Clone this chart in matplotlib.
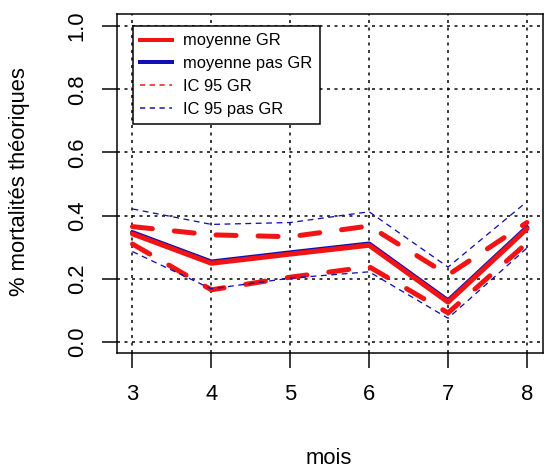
import matplotlib
matplotlib.use("Agg")
import matplotlib.pyplot as plt
from matplotlib.lines import Line2D

plt.rcParams['font.family'] = ['Liberation Sans', 'DejaVu Sans']

# donnees
mois = [3, 4, 5, 6, 7, 8]
moy_gr = [0.342, 0.249, 0.278, 0.306, 0.126, 0.358]
moy_pas_gr = [0.346, 0.253, 0.282, 0.310, 0.130, 0.362]
ic_gr_inf = [0.310, 0.165, 0.205, 0.238, 0.092, 0.313]
ic_gr_sup = [0.365, 0.339, 0.333, 0.367, 0.212, 0.378]
ic_pas_inf = [0.286, 0.168, 0.202, 0.222, 0.075, 0.297]
ic_pas_sup = [0.421, 0.372, 0.378, 0.412, 0.237, 0.444]

yticks = [0.0, 0.2, 0.4, 0.6, 0.8, 1.0]
legende = ["moyenne GR", "moyenne pas GR", "IC 95 GR", "IC 95 pas GR"]

ROUGE = '#f01414'
BLEU = '#1010b4'

fig = plt.figure(figsize=(544 / 72, 469 / 72), dpi=72)
ax = fig.add_axes([116.7 / 544, 1 - 353 / 469, 426 / 544, 339 / 469])

ax.set_xlim(2.8, 8.2)
ax.set_ylim(-0.035, 1.038)

# grille pointillee
for x in mois:
    ax.axvline(x, color='black', lw=1.5, linestyle=(0, (2, 3)), zorder=1)
for y in yticks:
    ax.axhline(y, color='black', lw=1.5, linestyle=(0, (2, 3)), zorder=1)

# moyennes
ax.plot(mois, moy_pas_gr, color=BLEU, lw=5, solid_capstyle='round', zorder=3)
ax.plot(mois, moy_gr, color=ROUGE, lw=5, solid_capstyle='round', zorder=4)

# intervalles de confiance
for ic in (ic_gr_inf, ic_gr_sup):
    ax.plot(mois, ic, color=ROUGE, lw=5, linestyle=(0, (4, 4.4)),
            dash_capstyle='round', zorder=3)
for ic in (ic_pas_inf, ic_pas_sup):
    ax.plot(mois, ic, color=BLEU, lw=1.3, linestyle=(0, (4.5, 3.5)), zorder=5)

ax.set_xticks(mois)
ax.set_xticklabels([str(m) for m in mois])
ax.set_yticks(yticks)
ax.set_yticklabels([f"{v:.1f}" for v in yticks], rotation=90, va='center')
ax.tick_params(axis='x', length=15, width=1.5, pad=16, labelsize=22)
ax.tick_params(axis='y', length=15, width=1.5, pad=14, labelsize=22)
for s in ax.spines.values():
    s.set_linewidth(1.5)

handles = [
    Line2D([], [], color=ROUGE, lw=4),
    Line2D([], [], color=BLEU, lw=4),
    Line2D([], [], color=ROUGE, lw=1.5, linestyle=(0, (3.5, 3))),
    Line2D([], [], color=BLEU, lw=1.5, linestyle=(0, (3.5, 3))),
]
leg = ax.legend(handles, legende, loc='upper left',
                bbox_to_anchor=(0.0376, 0.9646), borderaxespad=0,
                fontsize=16.5, handlelength=1.95, handletextpad=0.65,
                labelspacing=0.47, borderpad=0.45, fancybox=False,
                framealpha=1, edgecolor='black')
leg.get_frame().set_linewidth(1.5)
leg.set_zorder(6)

fig.text(329 / 544, 1 - 464 / 469, "mois", ha='center', va='baseline', fontsize=22)
fig.text(19.5 / 544, 1 - 182 / 469, "% mortalités théoriques", rotation=90,
         ha='center', va='center', fontsize=22)

fig.savefig("out.png", dpi=72)
